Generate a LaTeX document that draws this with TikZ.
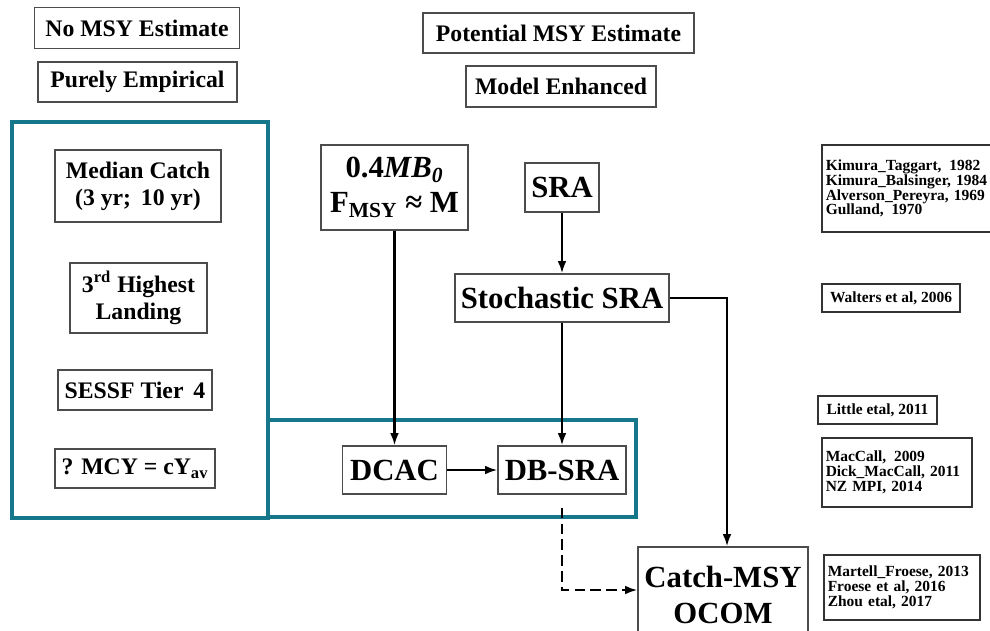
\documentclass[tikz,border=0pt]{standalone}
\usepackage{fontspec}
\setmainfont{Liberation Serif}
\usetikzlibrary{positioning,calc,arrows.meta}
\definecolor{sarcelle}{RGB}{22,118,138}
\tikzset{
	boite/.style={draw=black!70, line width=0.8pt, fill=white, align=center, inner sep=2pt,
		font=\bfseries\fontsize{13.5}{15.5}\selectfont},
	grande/.style={boite, font=\bfseries\fontsize{17.5}{20}\selectfont},
	refbox/.style={draw=black!80, line width=1pt, fill=white, inner sep=2pt,
		font=\bfseries\fontsize{8.8}{8.4}\selectfont},
	cadre/.style={draw=sarcelle, line width=2.8pt},
	fleche/.style={-{Latex[length=7pt,width=5pt]}, line width=1.2pt}
}

\begin{document}
\begin{tikzpicture}[x=0.02cm,y=-0.02cm]
	\useasboundingbox (0,0) rectangle (990,630);
	\clip (0,0) rectangle (990,630);
	
	%Cadres
	\draw[cadre] (12,122) rectangle (268,518);
	\draw[cadre] (268,420) rectangle (636,517);
	
	%Titres
	\node[boite, minimum width=4.1cm, minimum height=0.82cm] (nomsy) at (137,28) {No MSY Estimate};
	\node[boite, minimum width=3.98cm, minimum height=0.8cm] (empir) at (137.5,82) {Purely Empirical};
	\node[boite, minimum width=5.42cm, minimum height=0.8cm] (potmsy) at (558.5,33) {Potential MSY Estimate};
	\node[boite, minimum width=3.8cm, minimum height=0.82cm] (modenh) at (561,86.5) {Model Enhanced};
	
	%Methodes empiriques
	\node[boite, minimum width=3.32cm, minimum height=1.44cm] (median) at (138,186) {Median Catch\\(3 yr;\, 10 yr)};
	\node[boite, minimum width=2.74cm, minimum height=1.4cm] (third) at (138.5,298) {3\textsuperscript{rd} Highest\\Landing};
	\node[boite, minimum width=3.08cm, minimum height=0.8cm] (sessf) at (135,390) {SESSF Tier\, 4};
	\node[boite, minimum width=3.2cm, minimum height=0.78cm] (mcy) at (135,468.5) {? MCY = cY\textsubscript{av}};
	
	%Methodes avec modele
	\node[grande, minimum width=2.94cm, minimum height=1.7cm] (mbzero) at (394.5,187.5) {0.4\textit{MB\textsubscript{0}}\\F\textsubscript{MSY} ≈ M};
	\node[grande, minimum width=1.48cm, minimum height=0.98cm] (sra) at (562,187.5) {SRA};
	\node[grande, minimum width=4.28cm, minimum height=0.96cm] (stoch) at (562,298) {Stochastic SRA};
	\node[grande, minimum width=2.08cm, minimum height=0.96cm] (dcac) at (394.5,470) {DCAC};
	\node[grande, minimum width=2.56cm, minimum height=0.96cm] (dbsra) at (562,470) {DB-SRA};
	\node[grande, minimum width=3.4cm, minimum height=1.92cm] (catch) at (723,595) {Catch-MSY\\OCOM};
	
	%References
	\node[refbox, minimum width=3.6cm, minimum height=1.74cm, text width=3.45cm, align=left] (kimura) at (912,188.5)
		{Kimura\_Taggart,\, 1982\\Kimura\_Balsinger, 1984\\Alverson\_Pereyra, 1969\\Gulland,\, 1970};
	\node[refbox, minimum width=2.76cm, minimum height=0.56cm] (walters) at (891,298) {Walters et al, 2006};
	\node[refbox, minimum width=2.38cm, minimum height=0.56cm] (little) at (877.5,410) {Little etal, 2011};
	\node[refbox, minimum width=3cm, minimum height=1.38cm, text width=2.85cm, align=left] (maccall) at (897,472.5)
		{MacCall,\, 2009\\Dick\_MacCall, 2011\\NZ MPI, 2014};
	\node[refbox, minimum width=3.12cm, minimum height=1.3cm, text width=2.97cm, align=left] (martell) at (902,587.5)
		{Martell\_Froese, 2013\\Froese et al, 2016\\Zhou etal, 2017};
	
	%Fleches
	\draw[fleche] (mbzero.south) -- (dcac.north);
	\draw[fleche] (sra.south) -- (stoch.north);
	\draw[fleche] (stoch.south) -- (dbsra.north);
	\draw[fleche] (dcac.east) -- (dbsra.west);
	\draw[fleche] (stoch.east) -| ($(catch.north)+(4,0)$);
	\coordinate (dstart) at ($(dbsra.south)+(0,13)$);
	\draw[fleche, dash pattern=on 6pt off 3pt] (dstart) |- ($(catch.west)+(0,-5)$);
	
\end{tikzpicture}
\end{document}
